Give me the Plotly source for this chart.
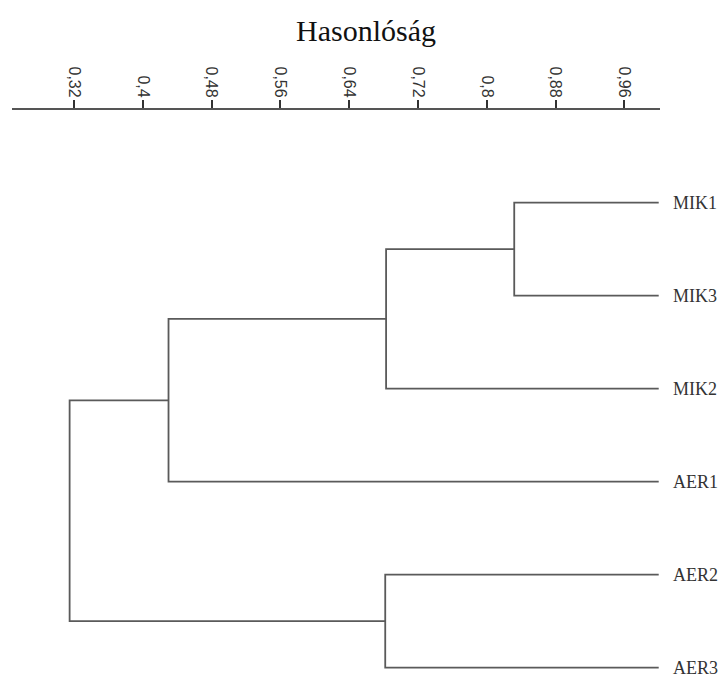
import plotly.graph_objects as go

# Leaf order (top to bottom) and agglomeration steps: (left, right, similarity)
leaves = ["MIK1", "MIK3", "MIK2", "AER1", "AER2", "AER3"]
merge_left = ["MIK1", "c1", "c2", "AER2", "c3"]
merge_right = ["MIK3", "MIK2", "AER1", "AER3", "c4"]
merge_height = [0.832, 0.683, 0.430, 0.682, 0.315]
merge_names = ["c1", "c2", "c3", "c4", "root"]

tick_vals = [0.32, 0.40, 0.48, 0.56, 0.64, 0.72, 0.80, 0.88, 0.96]
tick_text = ["0,32", "0,4", "0,48", "0,56", "0,64", "0,72", "0,8", "0,88", "0,96"]
leaf_level = 1.0

# plot-area geometry in pixels
W, H = 718, 677
ML, MR, MT, MB = 12, 58.3, 110, 5
PW, PH = W - ML - MR, H - MT - MB

# positions of every node: leaves sit at similarity 1.0
pos_x = {name: leaf_level for name in leaves}
pos_y = {name: i for i, name in enumerate(leaves)}

xs, ys = [], []
for name, a, b, h in zip(merge_names, merge_left, merge_right, merge_height):
    # elbow: child a -> vertical at h -> child b
    xs += [pos_x[a], h, h, pos_x[b], None]
    ys += [pos_y[a], pos_y[a], pos_y[b], pos_y[b], None]
    pos_x[name] = h
    pos_y[name] = (pos_y[a] + pos_y[b]) / 2

fig = go.Figure()
fig.add_trace(go.Scatter(
    x=xs, y=ys, mode="lines",
    line=dict(color="#5a5a5a", width=1.8),
    hoverinfo="skip", showlegend=False,
))

for name in leaves:
    fig.add_annotation(
        x=leaf_level, y=pos_y[name], text=name, showarrow=False,
        xanchor="left", yanchor="middle", xshift=12,
        font=dict(family="Liberation Serif", size=18, color="#333333"),
    )

# axis title above the tick labels
fig.add_annotation(
    xref="paper", yref="paper",
    x=(366 - ML) / PW, y=1 + (MT - 30) / PH,
    text="Hasonlóság", showarrow=False, xanchor="center", yanchor="middle",
    font=dict(family="Liberation Serif", size=30, color="#111111"),
)

fig.update_layout(
    width=W, height=H,
    margin=dict(l=ML, r=MR, t=MT, b=MB),
    paper_bgcolor="white", plot_bgcolor="white",
    xaxis=dict(
        side="top", range=[0.248, 1.0015],
        tickvals=tick_vals, ticktext=tick_text, tickangle=90,
        ticks="outside", ticklen=8, tickwidth=1.5, tickcolor="#333333",
        ticklabelstandoff=-3,
        showline=True, linecolor="#555555", linewidth=1.5,
        showgrid=False, zeroline=False,
        tickfont=dict(family="Liberation Sans", size=16, color="#333333"),
    ),
    yaxis=dict(
        range=[5.046, -0.997], visible=False,
        showgrid=False, zeroline=False,
    ),
)

fig.write_html("out.html")
